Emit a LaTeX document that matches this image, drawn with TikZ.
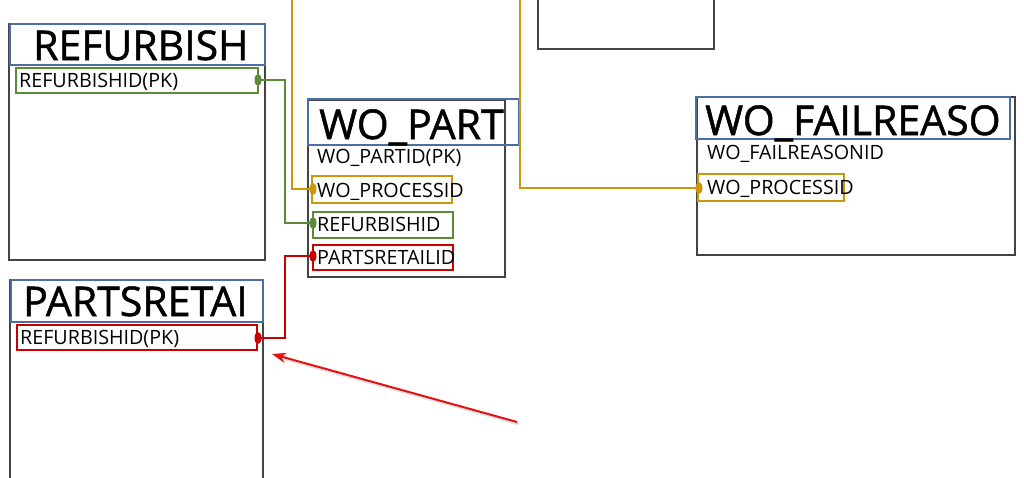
\documentclass[tikz,border=0pt]{standalone}
\usepackage{fontspec}
\setmainfont{Open Sans}
\newfontfamily\titlefont{Open Sans}[FakeBold=1.2]
\usetikzlibrary{arrows.meta,calc,shapes.geometric}
\definecolor{frameg}{HTML}{444444}
\definecolor{titleb}{HTML}{4A6FA5}
\definecolor{fkor}{HTML}{C9960C}
\definecolor{fkgr}{HTML}{5A8A3A}
\definecolor{fkrd}{HTML}{C80000}
\definecolor{arrowrd}{HTML}{E51010}
\tikzset{
  tbl/.style={draw=frameg, line width=2.6pt, anchor=north west, inner sep=0, outer sep=0},
  ttl/.style={draw=titleb, line width=1.3pt, anchor=north west, inner sep=0, outer sep=0},
  fld/.style={line width=2pt, anchor=north west, inner sep=0, outer sep=0},
  ttltext/.style={anchor=base west, inner sep=0, font=\titlefont\fontsize{41}{41}\selectfont},
  fldtext/.style={anchor=base west, inner sep=0, font=\fontsize{19.7}{19.7}\selectfont},
  dot/.style={ellipse, fill, inner sep=0, minimum width=7pt, minimum height=12pt},
  rel/.style={line width=2pt},
}
\begin{document}
\begin{tikzpicture}[x=1pt,y=-1pt]
\useasboundingbox (0,0) rectangle (1024,477);
% top partial table
\node[tbl, minimum width=176pt, minimum height=60pt] (toptbl) at (538,-11) {};
% REFURBISH
\node[tbl, minimum width=256pt, minimum height=236pt] (reftbl) at (9,24) {};
\node[ttl, minimum width=255pt, minimum height=41pt] (refttl) at (10,24) {};
\node[ttltext] (reftxt) at (33,60) {REFURBISH};
\node[fld, draw=fkgr, minimum width=242pt, minimum height=25pt] (reffld) at (16,68) {};
\node[fldtext] (reffldtxt) at (19,87) {REFURBISHID(PK)};
% WO_PART
\node[tbl, minimum width=197pt, minimum height=177pt] (wptbl) at (308,100) {};
\node[ttl, minimum width=211pt, minimum height=46pt] (wpttl) at (308,99) {};
\node[ttltext] (wptxt) at (319,139) {WO\_PART};
\node[fldtext] (wpf1) at (317,163) {WO\_PARTID(PK)};
\node[fld, draw=fkor, minimum width=140pt, minimum height=27pt] (wpf2box) at (312,176) {};
\node[fldtext] (wpf2) at (317,197) {WO\_PROCESSID};
\node[fld, draw=fkgr, minimum width=140pt, minimum height=26pt] (wpf3box) at (313,212) {};
\node[fldtext] (wpf3) at (317,231) {REFURBISHID};
\node[fld, draw=fkrd, minimum width=140pt, minimum height=25pt] (wpf4box) at (313,245) {};
\node[fldtext] (wpf4) at (317,264) {PARTSRETAILID};
% PARTSRETAI
\node[tbl, minimum width=253pt, minimum height=210pt] (prtbl) at (10,280) {};
\node[ttl, minimum width=252pt, minimum height=42pt] (prttl) at (11,280) {};
\node[ttltext] (prtxt) at (23,316) {PARTSRETAI};
\node[fld, draw=fkrd, minimum width=240pt, minimum height=25pt] (prfld) at (17,325) {};
\node[fldtext] (prfldtxt) at (20,344) {REFURBISHID(PK)};
% WO_FAILREASO
\node[tbl, minimum width=318pt, minimum height=158pt] (frtbl) at (697,97) {};
\node[ttl, minimum width=314pt, minimum height=42pt] (frttl) at (696,97) {};
\node[ttltext] (frtxt) at (705,135) {WO\_FAILREASO};
\node[fldtext] (frf1) at (707,159) {WO\_FAILREASONID};
\node[fld, draw=fkor, minimum width=146pt, minimum height=27pt] (frf2box) at (698,174) {};
\node[fldtext] (frf2) at (707,194) {WO\_PROCESSID};
% connector end points
\coordinate (topA) at (292,0);
\coordinate (topB) at (520,0);
\node[dot, fkor] (d1) at (313,189) {};
\node[dot, fkor] (d2) at (699,188) {};
\node[dot, fkgr] (d3) at (258,80) {};
\node[dot, fkgr] (d4) at (313,223) {};
\node[dot, fkrd] (d5) at (313,256) {};
\node[dot, fkrd] (d6) at (258,338) {};
% connectors
\draw[rel, fkor] (topA) |- (d1.center);
\draw[rel, fkor] (topB) |- (d2.center);
\draw[rel, fkgr] (d3.center) -- (285,80) |- (d4.center);
\draw[rel, fkrd] (d5.center) -- (285,256) |- (d6.center);
% annotation arrow
\coordinate (arrS) at (517,422);
\coordinate (arrE) at (272,354);
\draw[line width=2.5pt, black!12, -{Stealth[length=14pt,width=10pt]}] ($(arrS)+(1.5,2)$) -- ($(arrE)+(1.5,2)$);
\draw[line width=2pt, arrowrd, -{Stealth[length=14pt,width=10pt]}] (arrS) -- (arrE);
\end{tikzpicture}
\end{document}
